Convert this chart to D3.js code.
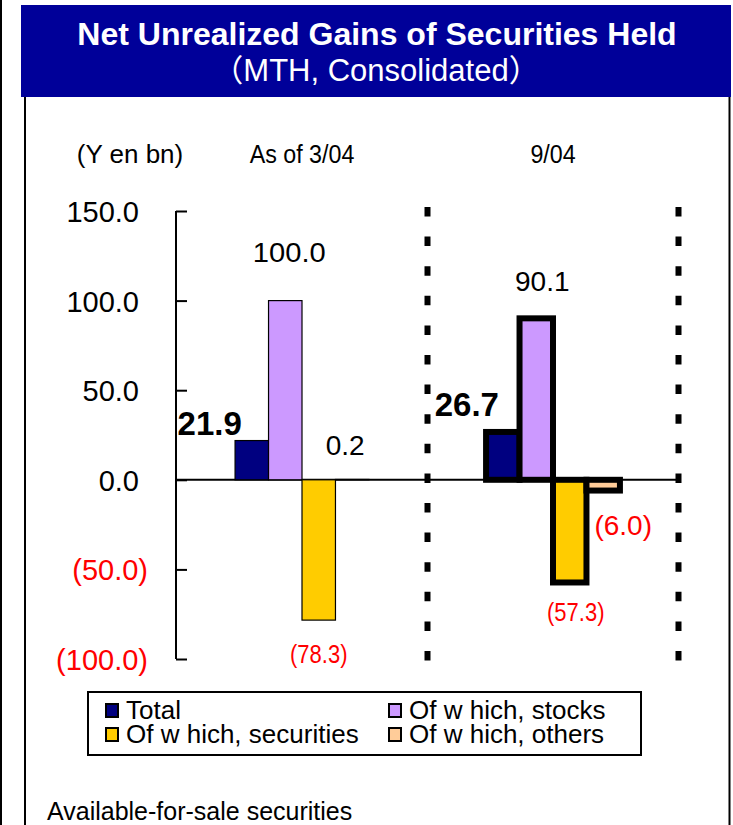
<!DOCTYPE html>
<html>
<head>
<meta charset="utf-8">
<script src="https://cdn.jsdelivr.net/npm/d3@7"></script>
<style>
  body { margin: 0; background: #fff; }
  svg { display: block; font-family: "Liberation Sans", Arial, "Noto Sans CJK JP", sans-serif; }
</style>
</head>
<body>
<div id="chart"></div>
<script>
// data
let periods = ['As of 3/04', '9/04']
let series = ['Total', 'Of which, stocks', 'Of which, securities', 'Of which, others']
let legendLabels = ['Total', 'Of w hich, stocks', 'Of w hich, securities', 'Of w hich, others']
let values = {
  'As of 3/04': [21.9, 100.0, -78.3, 0.2],
  '9/04': [26.7, 90.1, -57.3, -6.0]
}
let yTicks = [150, 100, 50, 0, -50, -100]
let colors = ['#000080', '#cc99ff', '#ffcc00', '#ffcc99']

let width = 733
let height = 825

let svg = d3.select('#chart')
  .append('svg')
  .attr('width', width)
  .attr('height', height)

// frame lines
svg.append('line').attr('x1', 1).attr('x2', 1).attr('y1', 0).attr('y2', height)
  .attr('stroke', '#000').attr('stroke-width', 2)
svg.append('line').attr('x1', 25).attr('x2', 25).attr('y1', 95).attr('y2', height)
  .attr('stroke', '#000').attr('stroke-width', 2)
svg.append('line').attr('x1', 729.5).attr('x2', 729.5).attr('y1', 95).attr('y2', height)
  .attr('stroke', '#000').attr('stroke-width', 2)

// title banner
svg.append('rect')
  .attr('x', 21).attr('y', 5).attr('width', 710).attr('height', 92)
  .attr('fill', '#000099')
svg.append('text')
  .attr('x', 377).attr('y', 45)
  .attr('text-anchor', 'middle')
  .attr('fill', '#fff')
  .attr('font-weight', 'bold')
  .attr('font-size', 32)
  .text('Net Unrealized Gains of Securities Held')
svg.append('text')
  .attr('x', 376).attr('y', 81)
  .attr('text-anchor', 'middle')
  .attr('fill', '#fff')
  .attr('font-size', 31)
  .text('（MTH, Consolidated）')

// scales
let x = d3.scaleBand().domain(periods).range([176.5, 678.5])
let xInner = d3.scaleBand().domain(series).range([0, x.bandwidth()]).paddingOuter(1.75)
let y = d3.scaleLinear().domain([-100, 150]).range([659, 211])

let fmt = d => d < 0 ? '(' + d3.format('.1f')(-d) + ')' : d3.format('.1f')(d)

// y axis
let axis = svg.append('g')
  .attr('transform', 'translate(176,0)')
  .call(d3.axisLeft(y).tickValues(yTicks).tickSize(-11).tickPadding(28).tickFormat(fmt))
axis.selectAll('.domain').attr('stroke-width', 2).attr('d', `M0,${y(150)}V${y(-100)}`)
axis.selectAll('.tick line').attr('stroke-width', 2)
axis.selectAll('.tick text')
  .attr('font-size', 29)
  .attr('font-family', '"Liberation Sans", Arial, sans-serif')
  .attr('fill', d => d < 0 ? '#ff0000' : '#000')
  .attr('dx', d => d < 0 ? 0 : -9)
  .attr('dy', '0.36em')

// zero line
svg.append('line')
  .attr('x1', 176).attr('x2', x.range()[1] + 1)
  .attr('y1', y(0)).attr('y2', y(0))
  .attr('stroke', '#000').attr('stroke-width', 2)

// dotted separators
svg.selectAll('.sep')
  .data(periods)
  .enter()
  .append('line')
  .attr('class', 'sep')
  .attr('x1', d => x(d) + x.bandwidth())
  .attr('x2', d => x(d) + x.bandwidth())
  .attr('y1', y(150) - 4)
  .attr('y2', y(-100) + 2)
  .attr('stroke', '#000')
  .attr('stroke-width', 6)
  .attr('stroke-dasharray', '9.5,20.1')

// unit label and period labels
svg.append('text')
  .attr('x', 130).attr('y', 163)
  .attr('text-anchor', 'middle')
  .attr('font-size', 26)
  .text('(Y en bn)')
svg.selectAll('.period')
  .data(periods)
  .enter()
  .append('text')
  .attr('class', 'period')
  .attr('transform', d => `translate(${x(d) + x.bandwidth() / 2},163) scale(0.93,1)`)
  .attr('text-anchor', 'middle')
  .attr('font-size', 25)
  .text(d => d)

// bars
let groups = svg.selectAll('.group')
  .data(periods)
  .enter()
  .append('g')
  .attr('class', 'group')
  .attr('transform', d => `translate(${x(d)},0)`)

groups.each(function(p, pi) {
  let holder = d3.select(this)
  let rows = values[p].map((v, i) => ({ key: series[i], value: v, i: i }))
  holder.selectAll('.bar')
    .data(rows)
    .enter()
    .append('rect')
    .attr('class', 'bar')
    .attr('x', d => xInner(d.key))
    .attr('width', xInner.bandwidth())
    .attr('y', d => y(Math.max(0, d.value)))
    .attr('height', d => Math.abs(y(d.value) - y(0)))
    .attr('fill', d => colors[d.i])
    .attr('stroke', '#000')
    .attr('stroke-width', pi === 0 ? 1.2 : 6)
})

// value labels
let labels = [
  { p: 'As of 3/04', i: 0, dx: -10, y: 435, anchor: 'end', bold: true, size: 33, sx: 1 },
  { p: 'As of 3/04', i: 1, dx: 4, y: 262, anchor: 'middle', size: 28, sx: 1.04 },
  { p: 'As of 3/04', i: 3, dx: -7, y: 455, anchor: 'middle', size: 28, sx: 1 },
  { p: 'As of 3/04', i: 2, dx: 0, y: 663, anchor: 'middle', size: 25, sx: 0.88 },
  { p: '9/04', i: 0, dx: -36, y: 416, anchor: 'middle', bold: true, size: 33, sx: 1 },
  { p: '9/04', i: 1, dx: 6, y: 291, anchor: 'middle', size: 28, sx: 1 },
  { p: '9/04', i: 2, dx: 6, y: 621, anchor: 'middle', size: 25, sx: 0.88 },
  { p: '9/04', i: 3, dx: 20, y: 535, anchor: 'middle', size: 28, sx: 1 }
]
svg.selectAll('.vlabel')
  .data(labels)
  .enter()
  .append('text')
  .attr('class', 'vlabel')
  .attr('transform', d => {
    let cx = x(d.p) + xInner(series[d.i]) + xInner.bandwidth() / 2 + d.dx
    return `translate(${cx},${d.y}) scale(${d.sx},1)`
  })
  .attr('text-anchor', d => d.anchor)
  .attr('font-size', d => d.size)
  .attr('font-weight', d => d.bold ? 'bold' : 'normal')
  .attr('fill', d => values[d.p][d.i] < 0 ? '#ff0000' : '#000')
  .text(d => fmt(values[d.p][d.i]))

// legend
let legend = svg.append('g').attr('transform', 'translate(88,692)')
legend.append('rect')
  .attr('width', 553).attr('height', 63)
  .attr('fill', '#fff').attr('stroke', '#000').attr('stroke-width', 2)
let item = legend.selectAll('.item')
  .data(legendLabels)
  .enter()
  .append('g')
  .attr('class', 'item')
  .attr('transform', (d, i) => `translate(${i % 2 === 0 ? 18 : 301},${i < 2 ? 12 : 36})`)
item.append('rect')
  .attr('width', 12).attr('height', 13)
  .attr('fill', (d, i) => colors[i])
  .attr('stroke', '#000').attr('stroke-width', 2)
item.append('text')
  .attr('x', 20).attr('y', 15)
  .attr('font-size', 26)
  .text(d => d)

// footnote
svg.append('text')
  .attr('x', 47).attr('y', 820)
  .attr('font-size', 25)
  .text('Available-for-sale securities')
</script>
</body>
</html>
